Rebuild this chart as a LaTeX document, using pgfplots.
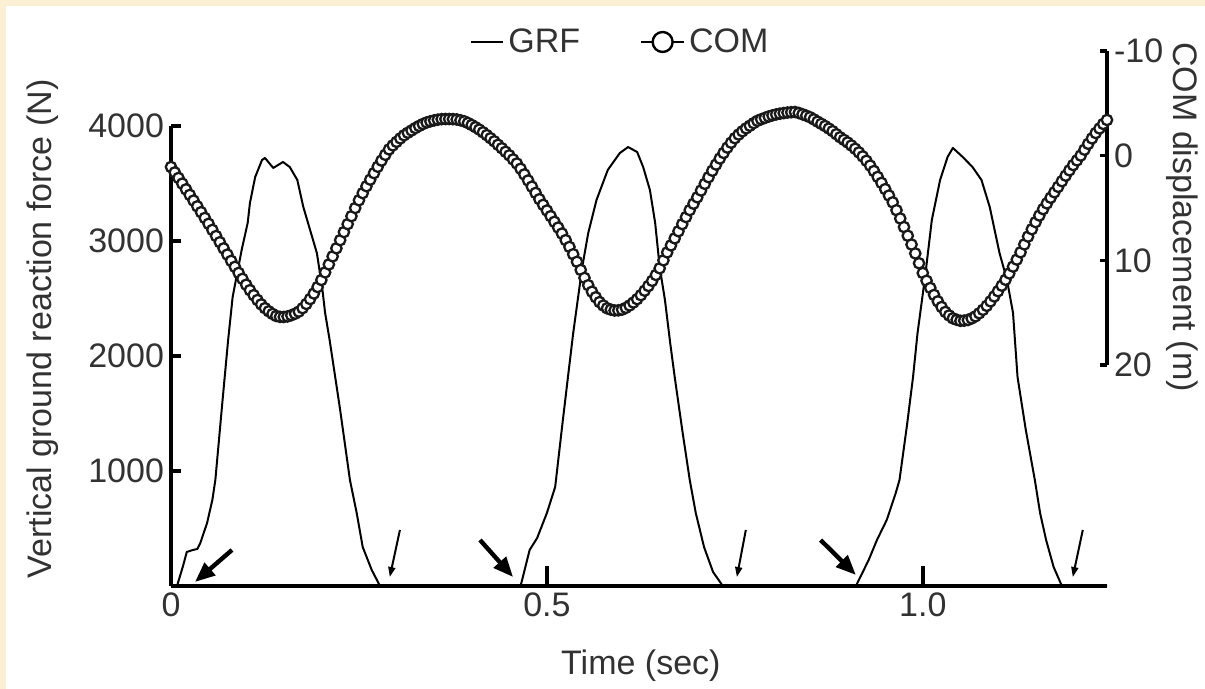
\documentclass[border=0pt]{standalone}
\usepackage{fontspec}
\setmainfont{Liberation Sans}
\usepackage{pgfplots}
\pgfplotsset{compat=1.18}
\usetikzlibrary{arrows.meta}
\definecolor{cream}{RGB}{251,240,212}
\definecolor{txt}{RGB}{50,50,50}

\begin{document}
\begin{tikzpicture}[font=\fontsize{17}{20}\selectfont]
\fill[cream] (0,0) rectangle (602.5pt,344.5pt);
\fill[white] (3pt,0) rectangle (602.5pt,341.5pt);

% left axis: GRF
\begin{axis}[scale only axis, width=468pt, height=230pt,
  at={(85.5pt,51.5pt)}, anchor=south west,
  xmin=0, xmax=1.245, ymin=0, ymax=4000, clip=false,
  axis x line=bottom, axis y line=left,
  axis line style={-, line width=1.7pt},
  tick align=inside,
  xtick={0,0.5,1}, xticklabels={0,0.5,1.0},
  ytick={1000,2000,3000,4000}, yticklabels={1000,2000,3000,4000},
  major tick style={line width=1.7pt, black},
  xtick style={/pgfplots/major tick length=10pt},
  ytick style={/pgfplots/major tick length=5pt},
  tick label style={font=\fontsize{17}{20}\selectfont, text=txt},
  label style={font=\fontsize{17}{20}\selectfont, text=txt},
  xlabel={Time (sec)},
  xlabel style={at={(axis description cs:0.502,-0.174)}, anchor=center},
  ylabel={Vertical ground reaction force (N)},
  ylabel style={at={(axis description cs:-0.137,0.559)}, anchor=center},
  legend columns=2,
  legend style={at={(axis description cs:0.3194,1.1826)}, anchor=west,
    draw=none, fill=none, inner sep=0pt, font=\fontsize{17}{20}\selectfont, text=txt,
    /tikz/every even column/.append style={column sep=28pt}},
  legend cell align=left]
\addplot[black, line width=1pt, line join=round,
  legend image code/.code={\draw[black,line width=1pt] (0pt,0pt)--(16pt,0pt);}]
  coordinates {(0,0)(0.008,0)(0.016,174)(0.021,296)(0.029,313)(0.035,322)(0.039,374)(0.048,548)(0.055,748)(0.059,922)(0.068,1574)(0.076,2139)(0.082,2513)(0.094,2922)(0.102,3157)(0.105,3331)(0.112,3557)(0.121,3704)(0.125,3722)(0.136,3635)(0.149,3687)(0.158,3643)(0.168,3531)(0.176,3296)(0.185,3096)(0.194,2896)(0.201,2600)(0.205,2374)(0.211,2139)(0.225,1531)(0.238,922)(0.247,635)(0.255,339)(0.267,139)(0.278,0)
  (0.465,0)(0.477,313)(0.487,417)(0.500,635)(0.511,861)(0.520,1374)(0.528,1817)(0.535,2200)(0.547,2774)(0.555,3070)(0.566,3357)(0.581,3618)(0.597,3765)(0.608,3817)(0.620,3774)(0.628,3644)(0.637,3444)(0.644,3157)(0.650,2774)(0.657,2487)(0.664,2113)(0.670,1817)(0.680,1357)(0.690,922)(0.698,635)(0.709,339)(0.721,122)(0.734,0)
  (0.911,0)(0.928,226)(0.939,400)(0.952,574)(0.964,809)(0.969,922)(0.979,1400)(0.987,1817)(0.993,2200)(1.003,2687)(1.012,3183)(1.023,3531)(1.033,3731)(1.040,3809)(1.053,3731)(1.066,3644)(1.078,3531)(1.089,3296)(1.102,2896)(1.112,2661)(1.120,2374)(1.126,1817)(1.137,1357)(1.149,922)(1.156,635)(1.164,400)(1.174,165)(1.185,0)(1.245,0)};
\addlegendentry{GRF}
\addlegendimage{legend image code/.code={\draw[black,line width=1pt] (0pt,0pt)--(21.5pt,0pt);
  \draw[black,fill=white,line width=1.2pt] (10.75pt,0pt) circle (5pt);}}
\addlegendentry{COM}
% touchdown (thick) and toe-off (thin) arrows
\draw[black, line width=2.2pt, -{Triangle[length=10pt,width=8pt]}] (axis cs:0.0811,313) -- (axis cs:0.0319,35);
\draw[black, line width=2.2pt, -{Triangle[length=10pt,width=8pt]}] (axis cs:0.411,400) -- (axis cs:0.455,78);
\draw[black, line width=2.2pt, -{Triangle[length=10pt,width=8pt]}] (axis cs:0.864,400) -- (axis cs:0.911,96);
\draw[black, line width=1pt, -{Triangle[length=5pt,width=3.5pt]}] (axis cs:0.3045,487) -- (axis cs:0.291,78);
\draw[black, line width=1pt, -{Triangle[length=5pt,width=3.5pt]}] (axis cs:0.7646,487) -- (axis cs:0.7527,78);
\draw[black, line width=1pt, -{Triangle[length=5pt,width=3.5pt]}] (axis cs:1.2128,487) -- (axis cs:1.1995,78);
\end{axis}

% right axis: COM displacement
\begin{axis}[scale only axis, width=468pt, height=157pt,
  at={(85.5pt,162pt)}, anchor=south west,
  xmin=0, xmax=1.245, ymin=-10, ymax=20, y dir=reverse, clip=false,
  axis x line=none, axis y line=right,
  axis line style={-, line width=1.7pt},
  tick align=inside, major tick length=3.5pt,
  major tick style={line width=1.7pt, black},
  ytick={-10,0,10,20}, yticklabels={-10,0,10,20},
  tick label style={font=\fontsize{17}{20}\selectfont, text=txt}]
\addplot[black, line width=0.8pt, mark=*, mark size=2.6pt,
  mark options={fill=white, draw=black!90, line width=1.15pt}]
  coordinates {(0.000,1.08)(0.005,1.60)(0.010,2.13)(0.015,2.67)(0.020,3.22)(0.025,3.75)(0.030,4.29)(0.035,4.84)(0.040,5.40)(0.045,5.95)(0.050,6.51)(0.055,7.09)(0.060,7.68)(0.065,8.27)(0.070,8.86)(0.075,9.45)(0.080,10.05)(0.085,10.62)(0.090,11.20)(0.095,11.77)(0.100,12.33)(0.105,12.85)(0.110,13.33)(0.115,13.79)(0.120,14.21)(0.125,14.57)(0.130,14.87)(0.135,15.12)(0.140,15.32)(0.145,15.40)(0.150,15.41)(0.155,15.36)(0.160,15.25)(0.165,15.10)(0.170,14.90)(0.175,14.57)(0.180,14.17)(0.185,13.70)(0.190,13.17)(0.195,12.55)(0.200,11.88)(0.205,11.15)(0.210,10.39)(0.215,9.62)(0.220,8.85)(0.225,8.07)(0.230,7.30)(0.235,6.54)(0.240,5.78)(0.245,5.00)(0.250,4.26)(0.255,3.58)(0.260,2.92)(0.265,2.29)(0.270,1.67)(0.275,1.06)(0.280,0.47)(0.285,-0.08)(0.290,-0.60)(0.295,-0.98)(0.300,-1.32)(0.305,-1.65)(0.310,-1.95)(0.315,-2.19)(0.320,-2.41)(0.325,-2.64)(0.330,-2.84)(0.335,-3.02)(0.340,-3.17)(0.345,-3.28)(0.350,-3.37)(0.355,-3.44)(0.360,-3.49)(0.365,-3.50)(0.370,-3.50)(0.375,-3.49)(0.380,-3.46)(0.385,-3.38)(0.390,-3.28)(0.395,-3.12)(0.400,-2.93)(0.405,-2.72)(0.410,-2.49)(0.415,-2.23)(0.420,-1.96)(0.425,-1.67)(0.430,-1.37)(0.435,-1.04)(0.440,-0.71)(0.445,-0.37)(0.450,-0.03)(0.455,0.36)(0.460,0.75)(0.465,1.25)(0.470,1.79)(0.475,2.37)(0.480,2.96)(0.485,3.56)(0.490,4.16)(0.495,4.70)(0.500,5.24)(0.505,5.78)(0.510,6.32)(0.515,6.87)(0.520,7.44)(0.525,8.07)(0.530,8.72)(0.535,9.42)(0.540,10.14)(0.545,10.92)(0.550,11.68)(0.555,12.38)(0.560,13.00)(0.565,13.53)(0.570,13.99)(0.575,14.32)(0.580,14.58)(0.585,14.71)(0.590,14.79)(0.595,14.78)(0.600,14.71)(0.605,14.54)(0.610,14.31)(0.615,14.03)(0.620,13.71)(0.625,13.33)(0.630,12.90)(0.635,12.45)(0.640,11.96)(0.645,11.40)(0.650,10.76)(0.655,10.00)(0.660,9.24)(0.665,8.57)(0.670,7.90)(0.675,7.22)(0.680,6.54)(0.685,5.87)(0.690,5.20)(0.695,4.59)(0.700,3.98)(0.705,3.33)(0.710,2.69)(0.715,2.06)(0.720,1.44)(0.725,0.85)(0.730,0.27)(0.735,-0.26)(0.740,-0.77)(0.745,-1.24)(0.750,-1.67)(0.755,-2.02)(0.760,-2.33)(0.765,-2.61)(0.770,-2.86)(0.775,-3.11)(0.780,-3.33)(0.785,-3.48)(0.790,-3.61)(0.795,-3.74)(0.800,-3.85)(0.805,-3.94)(0.810,-4.01)(0.815,-4.07)(0.820,-4.12)(0.825,-4.15)(0.830,-4.17)(0.835,-4.08)(0.840,-3.95)(0.845,-3.82)(0.850,-3.67)(0.855,-3.47)(0.860,-3.25)(0.865,-3.04)(0.870,-2.83)(0.875,-2.59)(0.880,-2.34)(0.885,-2.05)(0.890,-1.76)(0.895,-1.51)(0.900,-1.26)(0.905,-0.97)(0.910,-0.66)(0.915,-0.31)(0.920,0.07)(0.925,0.49)(0.930,0.95)(0.935,1.47)(0.940,2.03)(0.945,2.60)(0.950,3.20)(0.955,3.81)(0.960,4.46)(0.965,5.21)(0.970,6.00)(0.975,6.82)(0.980,7.65)(0.985,8.49)(0.990,9.34)(0.995,10.28)(1.000,11.21)(1.005,11.95)(1.010,12.64)(1.015,13.31)(1.020,13.92)(1.025,14.46)(1.030,14.93)(1.035,15.27)(1.040,15.54)(1.045,15.68)(1.050,15.78)(1.055,15.76)(1.060,15.70)(1.065,15.55)(1.070,15.35)(1.075,15.06)(1.080,14.73)(1.085,14.35)(1.090,13.92)(1.095,13.45)(1.100,12.95)(1.105,12.42)(1.110,11.86)(1.115,11.25)(1.120,10.60)(1.125,9.93)(1.130,9.23)(1.135,8.48)(1.140,7.73)(1.145,7.03)(1.150,6.35)(1.155,5.72)(1.160,5.11)(1.165,4.56)(1.170,4.02)(1.175,3.50)(1.180,2.98)(1.185,2.44)(1.190,1.91)(1.195,1.40)(1.200,0.90)(1.205,0.45)(1.210,-0.01)(1.215,-0.57)(1.220,-1.13)(1.225,-1.65)(1.230,-2.16)(1.235,-2.60)(1.240,-3.03)(1.245,-3.41)};
\node[rotate=-90, anchor=center, text=txt, inner sep=0pt] at (axis description cs:1.080,0.471) {COM displacement (m)};
\end{axis}
\pgfresetboundingbox
\path (0,0) rectangle (602.5pt,344.5pt);
\end{tikzpicture}
\end{document}
